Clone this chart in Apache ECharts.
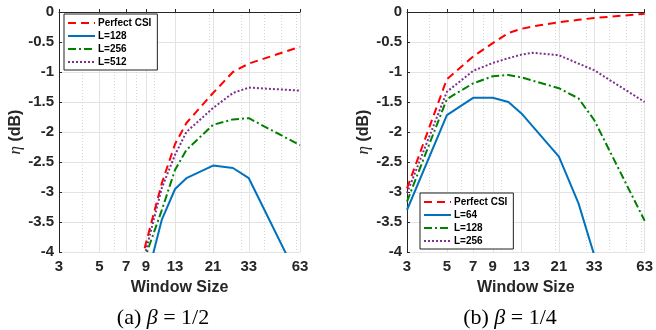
<!DOCTYPE html>
<html><head><meta charset="utf-8">
<script src="https://cdn.jsdelivr.net/npm/echarts@6/dist/echarts.min.js"></script>
<style>html,body{margin:0;padding:0;background:#fff}#c{width:656px;height:330px}</style>
</head><body><div id="c"></div>
<script>
// ---- data ----
const xTickLabels = [3, 5, 7, 9, 13, 21, 33, 63];
const xMinorGrid = [4, 6, 8, 10, 20, 30, 40, 50, 60];

// (a) beta = 1/2
const windowA = [7, 9, 11, 13, 15, 21, 27, 33, 63];
const perfectA = [-5.2, -3.85, -2.85, -2.2, -1.85, -1.35, -1.0, -0.86, -0.58];
const l128A   = [null, -4.5, -3.46, -2.95, -2.77, -2.56, -2.6, -2.77, -4.5];
const l256A   = [-5.2, -4.05, -3.3, -2.63, -2.3, -1.88, -1.79, -1.77, -2.22];
const l512A   = [-5.0, -3.97, -2.93, -2.38, -2.0, -1.6, -1.35, -1.26, -1.31];

// (b) beta = 1/4
const windowB = [3, 5, 7, 9, 11, 13, 15, 21, 27, 33, 63];
const perfectB = [-2.94, -1.12, -0.74, -0.52, -0.35, -0.28, -0.24, -0.17, -0.13, -0.1, -0.03];
const l64B    = [-3.3, -1.72, -1.43, -1.43, -1.5, -1.69, null, -2.41, -3.19, -4.05, null];
const l128B   = [-3.16, -1.45, -1.19, -1.07, -1.05, -1.09, null, -1.27, -1.44, -1.8, -3.48];
const l256B   = [-3.02, -1.33, -0.98, -0.85, -0.77, -0.71, -0.68, -0.72, -0.86, -0.97, -1.5];

// ---- styles ----
const C = {red:'#FF0000', blue:'#0072BD', green:'#008000', purple:'#7E2F8E'};
const DASH = {solid:'solid', dashed:[8,5], dashdot:[8,3,2,3], dotted:[2,2]};
const AX = '#262626';
const FONT = '"Liberation Sans", Arial, Helvetica, sans-serif';
const LOGMIN = Math.log(3), LOGMAX = Math.log(63);

function pts(ws, vals){
  const out = [];
  ws.forEach((w,i)=>{ if (vals[i] !== null && vals[i] !== undefined) out.push([Math.log(w), vals[i]]); });
  return out;
}
function line(name, gi, ws, vals, color, dash){
  return {
    type:'line', name, xAxisIndex: gi*2, yAxisIndex: gi,
    data: pts(ws, vals), symbol:'none', showSymbol:false, clip:true,
    lineStyle:{color, width:2, type:dash, cap:'butt'}, itemStyle:{color},
    z:3
  };
}

const grids = [
  {left:59, top:12, width:241, height:240},
  {left:407, top:12, width:241, height:240}
];

const xAxes = [], yAxes = [];
[0,1].forEach(gi=>{
  xAxes.push({
    type:'value', gridIndex:gi, min:LOGMIN, max:LOGMAX,
    axisLine:{show:true, lineStyle:{color:AX, width:1}},
    axisTick:{show:true, inside:true, length:3, lineStyle:{color:AX}, customValues: xTickLabels.map(Math.log)},
    axisLabel:{show:true, customValues: xTickLabels.map(Math.log), formatter:v=>String(Math.round(Math.exp(v))),
      fontSize:15, fontWeight:'bold', color:AX, fontFamily:FONT, margin:7},
    splitLine:{show:true, lineStyle:{color:'#e3e3e3', width:1}},
    name:'Window Size', nameLocation:'middle', nameGap:28,
    nameTextStyle:{fontSize:16, fontWeight:'bold', color:AX, fontFamily:FONT}
  });
  xAxes.push({
    type:'value', gridIndex:gi, min:LOGMIN, max:LOGMAX,
    axisLine:{show:false},
    axisTick:{show:false, customValues: xMinorGrid.map(Math.log)},
    axisLabel:{show:false, customValues: xMinorGrid.map(Math.log)},
    splitLine:{show:true, lineStyle:{color:'#d6d6d6', width:1, type:[1,2]}}
  });
  yAxes.push({
    type:'value', gridIndex:gi, min:-4, max:0, interval:0.5,
    axisLine:{show:true, lineStyle:{color:AX, width:1}},
    axisTick:{show:true, inside:true, length:3, lineStyle:{color:AX}},
    axisLabel:{fontSize:15, fontWeight:'bold', color:AX, fontFamily:FONT, margin:5},
    splitLine:{show:true, lineStyle:{color:'#e3e3e3', width:1}},
    name:'{e|η} {b|(dB)}', nameLocation:'middle', nameRotate:90, nameGap:33,
    nameTextStyle:{color:AX, fontFamily:FONT, fontSize:16, fontWeight:'bold',
      rich:{e:{fontFamily:'"Liberation Serif", serif', fontStyle:'italic', fontWeight:'normal', fontSize:17, color:AX},
            b:{fontFamily:FONT, fontWeight:'bold', fontSize:16, color:AX}}}
  });
});

const series = [
  line('a:Perfect CSI', 0, windowA, perfectA, C.red, DASH.dashed),
  line('a:L=128', 0, windowA, l128A, C.blue, DASH.solid),
  line('a:L=256', 0, windowA, l256A, C.green, DASH.dashdot),
  line('a:L=512', 0, windowA, l512A, C.purple, DASH.dotted),
  line('b:Perfect CSI', 1, windowB, perfectB, C.red, DASH.dashed),
  line('b:L=64', 1, windowB, l64B, C.blue, DASH.solid),
  line('b:L=128', 1, windowB, l128B, C.green, DASH.dashdot),
  line('b:L=256', 1, windowB, l256B, C.purple, DASH.dotted)
];

function legend(prefix, left, top){
  return {
    data: series.filter(s=>s.name.startsWith(prefix)).map(s=>s.name),
    formatter: n=>n.slice(2),
    orient:'vertical', left, top,
    itemWidth:27, itemHeight:10, itemGap:3,
    padding:[4,6,3,3],
    itemStyle:{opacity:0},
    borderColor:'#222', borderWidth:1, backgroundColor:'#fff', borderRadius:0,
    textStyle:{fontSize:10, fontWeight:'bold', color:'#000', fontFamily:FONT, padding:[0,0,0,-2]},
    selectedMode:false
  };
}

const serif = '"Liberation Serif", "Times New Roman", serif';
function caption(x, label, frac){
  return {
    type:'text', x, y:318,
    style:{
      text: label + ' {i|β} = ' + frac,
      align:'center', verticalAlign:'middle',
      fontFamily: serif, fontSize:22, fill:'#000',
      rich:{i:{fontFamily:serif, fontStyle:'italic', fontSize:22, fill:'#000'}}
    }
  };
}

const chart = echarts.init(document.getElementById('c'), null, {renderer:'canvas'});
chart.setOption({
  animation:false,
  backgroundColor:'#fff',
  grid: grids,
  xAxis: xAxes,
  yAxis: yAxes,
  legend: [legend('a:', 64, 14), legend('b:', 420, 193)],
  series,
  graphic: [caption(163, '(a)', '1/2'), caption(510, '(b)', '1/4')]
});
</script>
</body></html>
